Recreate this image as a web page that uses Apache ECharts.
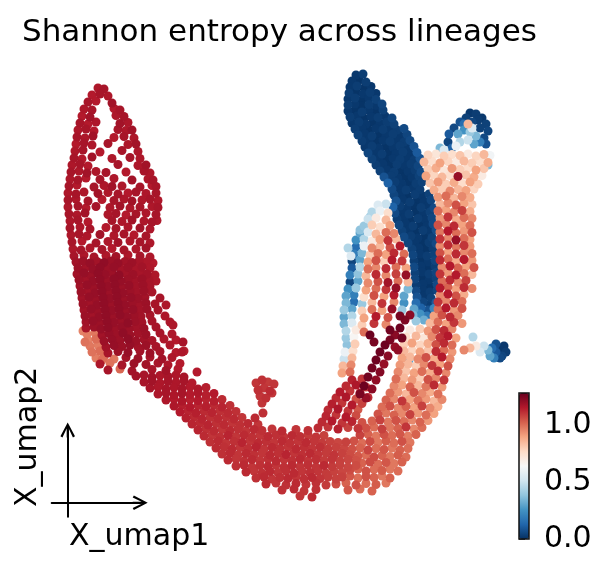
<!DOCTYPE html>
<html>
<head>
<meta charset="utf-8">
<script src="https://cdn.jsdelivr.net/npm/echarts@6/dist/echarts.min.js"></script>
<style>
  html, body { margin: 0; padding: 0; background: #fff; }
  #chart { width: 610px; height: 572px; }
</style>
</head>
<body>
<div id="chart"></div>
<script>
// every point is [umap1, umap2, entropy]
var leftArm = [
  [7.6,82.4,1.16],[8.8,82.2,1.17],
  [6.4,81,1.15],[8,81.2,1.17],[9.6,80.8,1.16],
  [5.6,79.6,1.17],[7.2,79.8,1.15],[10.4,79.4,1.18],
  [4.8,78.2,1.16],[6.4,78,1.17],[10.8,78.3,1.15],[12,78,1.17],
  [4.4,76.8,1.15],[6,76.6,1.18],[11.2,76.9,1.16],[12.8,76.7,1.17],
  [4,75.4,1.17],[5.6,75.2,1.15],[7.2,75.6,1.16],[12,75.3,1.18],[13.6,75.5,1.16],
  [3.6,74,1.16],[5.2,74.2,1.17],[6.8,73.8,1.15],[11.6,74.1,1.17],[13.2,73.9,1.16],[14.4,74,1.18],
  [3.4,72.6,1.17],[5,72.4,1.16],[6.6,72.8,1.18],[10.8,72.5,1.15],[12.8,72.7,1.17],[14.8,72.4,1.16],
  [3.2,71.2,1.15],[4.8,71.4,1.17],[6.4,71,1.16],[9.6,71.3,1.17],[13.6,71.1,1.16],[15.2,71.2,1.18],
  [3,69.8,1.16],[4.6,70,1.17],[8,69.6,1.15],[12.4,69.9,1.17],[15.6,69.7,1.16],
  [2.8,68.4,1.17],[4.4,68.2,1.15],[6.4,68.6,1.18],[10.4,68.3,1.16],[14,68.5,1.17],[16,68.3,1.16],
  [2.4,67,1.16],[4,67.2,1.17],[5.6,66.8,1.15],[11.6,67.1,1.17],[15.6,66.9,1.16],[17.2,67,1.18],
  [2.2,65.6,1.17],[3.8,65.8,1.16],[5.4,65.4,1.18],[7.2,65.7,1.16],[9.2,65.5,1.17],[13.2,65.6,1.15],[16.8,65.8,1.17],[18,65.4,1.16],
  [2,64.2,1.16],[3.6,64,1.17],[5.2,64.4,1.15],[8,64.1,1.17],[10.8,64.3,1.16],[14.4,64,1.18],[17.6,64.2,1.16],[18.6,64,1.17],
  [1.8,62.8,1.17],[3.4,63,1.15],[6.8,62.6,1.17],[8.8,62.9,1.16],[10.4,62.7,1.18],[12.4,62.8,1.16],[16,62.6,1.17],[18.4,62.9,1.15],[19.2,62.7,1.17],
  [1.6,61.4,1.16],[3.2,61.2,1.17],[4.8,61.6,1.16],[7.6,61.3,1.18],[9.6,61.5,1.16],[11.6,61.2,1.17],[13.6,61.4,1.15],[15.2,61.6,1.17],[17.2,61.3,1.16],[19.2,61.4,1.17],
  [1.6,60,1.17],[3.2,60.2,1.16],[5.6,59.8,1.17],[8.4,60.1,1.15],[10.8,59.9,1.17],[12.8,60.2,1.16],[14.4,59.8,1.18],[16.4,60,1.16],[18,60.2,1.17],[19.6,59.9,1.16],
  [1.6,58.6,1.16],[3.6,58.8,1.17],[5.2,58.4,1.15],[7.2,58.7,1.17],[10,58.5,1.16],[12,58.8,1.18],[14,58.4,1.16],[16,58.6,1.17],[18.4,58.7,1.16],[19.6,58.5,1.17],
  [1.8,57.2,1.17],[3.4,57,1.16],[5,57.4,1.18],[9.6,57.1,1.16],[11.2,57.3,1.17],[13.2,57,1.15],[15.2,57.2,1.17],[17.2,57.4,1.16],[19.2,57.1,1.17],
  [2,55.8,1.16],[3.6,56,1.17],[5.6,55.6,1.15],[10.4,55.9,1.17],[12.4,55.7,1.16],[14.4,56,1.18],[16.8,55.8,1.16],[18.4,55.6,1.17],[19.4,55.9,1.16],
  [2,54.4,1.17],[4,54.6,1.16],[6,54.2,1.17],[9.2,54.5,1.15],[11.2,54.3,1.17],[13.6,54.6,1.16],[16,54.4,1.18],[18,54.2,1.16],
  [2.2,53,1.16],[3.8,53.2,1.17],[5.4,52.8,1.16],[8,53.1,1.18],[10.8,52.9,1.16],[12.8,53.2,1.17],[14.8,53,1.15],[17.2,52.8,1.17],
  [2.4,51.6,1.17],[4.4,51.8,1.15],[7.2,51.4,1.17],[9.6,51.7,1.16],[11.6,51.5,1.18],[14,51.8,1.16],[16,51.6,1.17],[18,51.4,1.16],
  [2.6,50.2,1.16],[4.2,50,1.17],[6,50.4,1.16],[8.4,50.1,1.17],[10.4,50.3,1.15],[12.8,50,1.17],[15.2,50.2,1.16],[17.2,50.4,1.18],
  [2.8,48.8,1.17],[4.8,49,1.16],[6.8,48.6,1.17],[9.2,48.9,1.16],[11.2,48.7,1.18],[13.6,49,1.16],[16,48.8,1.17],[18,48.6,1.16]
];

var leftClump = [
  [3.2,47.6,1.18],[4.6,47.8,1.19],[6,47.4,1.2],[7.4,47.7,1.18],[8.8,47.5,1.21],[10.2,47.8,1.19],[11.6,47.4,1.2],[13,47.7,1.18],[14.4,47.5,1.19],[15.8,47.8,1.17],[17.2,47.6,1.16],[18.6,47.4,1.15],
  [3.6,46.4,1.19],[5.2,46.6,1.18],[6.6,46.2,1.2],[8,46.5,1.21],[9.4,46.3,1.19],[10.8,46.6,1.2],[12.2,46.2,1.18],[13.6,46.5,1.19],[15,46.3,1.17],[16.4,46.6,1.18],[18,46.4,1.16],
  [3.4,45.2,1.18],[4.8,45.4,1.2],[6.2,45,1.19],[7.6,45.3,1.21],[9,45.1,1.2],[10.4,45.4,1.19],[11.8,45,1.21],[13.2,45.3,1.18],[14.6,45.1,1.19],[16,45.4,1.17],[17.4,45.2,1.18],[19,45,1.16],
  [3.8,44,1.19],[5.2,44.2,1.18],[6.6,43.8,1.2],[8,44.1,1.21],[9.4,43.9,1.19],[10.8,44.2,1.21],[12.2,43.8,1.2],[13.6,44.1,1.19],[15,43.9,1.18],[16.4,44.2,1.19],[17.8,44,1.17],[19.2,43.8,1.16],
  [4,42.8,1.18],[5.4,43,1.2],[6.8,42.6,1.19],[8.2,42.9,1.21],[9.6,42.7,1.2],[11,43,1.21],[12.4,42.6,1.19],[13.8,42.9,1.2],[15.2,42.7,1.18],[16.6,43,1.19],[18,42.8,1.17],
  [4.2,41.6,1.19],[5.6,41.8,1.18],[7,41.4,1.2],[8.4,41.7,1.21],[9.8,41.5,1.19],[11.2,41.8,1.21],[12.6,41.4,1.2],[14,41.7,1.19],[15.4,41.5,1.18],[16.8,41.8,1.19],[18.4,41.6,1.17],
  [4.4,40.4,1.18],[5.8,40.6,1.2],[7.2,40.2,1.19],[8.6,40.5,1.21],[10,40.3,1.2],[11.4,40.6,1.21],[12.8,40.2,1.19],[14.2,40.5,1.2],[15.6,40.3,1.19],[17,40.6,1.18],[20,40.4,1.17],
  [4.6,39.2,1.19],[6,39.4,1.18],[7.4,39,1.2],[8.8,39.3,1.21],[10.2,39.1,1.19],[11.6,39.4,1.21],[13,39,1.2],[14.4,39.3,1.19],[15.8,39.1,1.18],[17.2,39.4,1.19],[19,39.2,1.17],[21.2,39,1.16],
  [4.8,38,1.18],[6.2,38.2,1.2],[7.6,37.8,1.19],[9,38.1,1.21],[10.4,37.9,1.2],[11.8,38.2,1.21],[13.2,37.8,1.19],[14.6,38.1,1.2],[16,37.9,1.18],[17.4,38.2,1.19],[19.6,38,1.17],
  [5,36.8,1.19],[6.4,37,1.18],[7.8,36.6,1.2],[9.2,36.9,1.21],[10.6,36.7,1.19],[12,37,1.21],[13.4,36.6,1.2],[14.8,36.9,1.19],[16.2,36.7,1.18],[18,37,1.17],[21,36.8,1.16],
  [5.2,35.6,1.18],[6.6,35.8,1.2],[8,35.4,1.19],[9.4,35.7,1.21],[10.8,35.5,1.2],[12.2,35.8,1.19],[13.6,35.4,1.21],[15,35.7,1.19],[16.4,35.5,1.18],[18.4,35.8,1.17],[22,35.6,1.16],
  [5.2,34.4,1.17],[6.8,34.6,1.19],[8.2,34.2,1.2],[9.6,34.5,1.21],[11,34.3,1.19],[12.4,34.6,1.2],[13.8,34.2,1.19],[15.2,34.5,1.18],[16.8,34.3,1.19],[19.2,34.6,1.17],
  [5.4,33.2,0.97],[7,33.4,0.98],[8.4,33,1.18],[9.8,33.3,1.2],[11.2,33.1,1.19],[12.6,33.4,1.21],[14,33,1.19],[15.6,33.3,1.18],[17.2,33.1,1.19],[20,33.4,1.17],[22.4,33.2,1.16],
  [5.6,32,0.96],[7.2,32.2,1.0],[8.8,31.8,1.19],[10.4,32.1,1.2],[12,31.9,1.19],[13.6,32.2,1.21],[15.2,31.8,1.19],[16.8,32.1,1.18],[18.4,31.9,1.17],[20.8,32.2,1.16],[23.2,32,1.15],
  [6,30.8,0.98],[7.6,31,0.97],[9.2,30.6,1.18],[10.8,30.9,1.2],[12.4,30.7,1.19],[14,31,1.2],[15.6,30.6,1.18],[17.2,30.9,1.19],[19.2,30.7,1.17],[22,31,1.16],
  [6.4,29.6,0.99],[8,29.8,1.0],[9.6,29.4,1.17],[11.6,29.7,1.19],[13.6,29.5,1.2],[16,29.8,1.18],[18,29.4,1.19],[20,29.7,1.17],[23.2,29.5,1.15],[24.8,29.8,1.14],
  [7.2,28.4,0.97],[8.8,28.6,1.0],[10.8,28.2,0.98],[13.2,28.5,1.18],[15.6,28.3,1.19],[18,28.6,1.17],[20.4,28.2,1.18],[22.4,28.5,1.16],
  [8,27.2,1.16],[10,27.4,0.99],[12.4,27,1.17],[14.8,27.3,1.19],[17.2,27.1,1.18],[19.6,27.4,1.17],[21.6,27,1.16],[24,27.3,1.15],
  [9.6,26,1.17],[12,26.2,1.01],[14.4,25.8,1.18],[18.4,26.1,1.17],[21.2,25.9,1.18],[23.6,26.2,1.15],
  [4.6,33.8,0.96],[5,31.6,0.99],[8.4,28,1.0]
];

var tailBand = [
  [15.2,24.8,1.18],[16.8,25,1.17],[18.4,24.6,1.18],[20,24.9,1.16],[21.6,24.7,1.17],[23.2,25,1.16],[24.8,24.6,1.17],
  [16.8,23.6,1.17],[18.4,23.8,1.18],[20,23.4,1.16],[21.6,23.7,1.17],[23.2,23.5,1.16],[24.8,23.8,1.17],[26.4,23.4,1.15],
  [18,22.4,1.17],[19.6,22.6,1.16],[21.2,22.2,1.17],[22.8,22.5,1.16],[24.4,22.3,1.17],[26,22.6,1.15],[27.6,22.2,1.16],[29.2,22.5,1.14],
  [19.6,21.2,1.16],[21.2,21.4,1.17],[22.8,21,1.16],[24.4,21.3,1.17],[26,21.1,1.15],[27.6,21.4,1.16],[29.2,21,1.14],[30.8,21.3,1.15],
  [21.2,20,1.16],[22.8,20.2,1.15],[24.4,19.8,1.16],[26,20.1,1.14],[27.6,19.9,1.15],[29.2,20.2,1.13],[30.8,19.8,1.14],[32.4,20.1,1.12],
  [22.8,18.8,1.16],[24.4,19,1.14],[26,18.6,1.15],[27.6,18.9,1.13],[29.2,18.7,1.14],[30.8,19,1.12],[32.4,18.6,1.13],[34,18.9,1.11],
  [24,17.6,1.15],[25.6,17.8,1.13],[27.2,17.4,1.14],[28.8,17.7,1.12],[30.4,17.5,1.13],[32,17.8,1.11],[33.6,17.4,1.12],[35.2,17.7,1.11],
  [25.2,16.4,1.14],[26.8,16.6,1.12],[28.4,16.2,1.13],[30,16.5,1.11],[31.6,16.3,1.12],[33.2,16.6,1.11],[34.8,16.2,1.12],[36.4,16.5,1.1],
  [26.4,15.2,1.13],[28,15.4,1.12],[29.6,15,1.13],[31.2,15.3,1.11],[32.8,15.1,1.12],[34.4,15.4,1.1],[36,15,1.11],[37.6,15.3,1.12],[39.6,15.1,1.1],
  [27.6,14,1.13],[29.2,14.2,1.11],[30.8,13.8,1.12],[32.4,14.1,1.1],[34,13.9,1.12],[35.6,14.2,1.11],[37.2,13.8,1.1],[38.8,14.1,1.12],[40.4,13.9,1.11],[42.4,14.2,1.1],[44.4,13.8,1.12],[47.2,14.1,1.1],[49.6,13.9,1.11]
];

var uBand = [
  [28.8,12.8,1.12],[30.4,13,1.1],[32,12.6,1.11],[33.6,12.9,1.13],[35.2,12.7,1.1],[36.8,13,1.12],[38.4,12.6,1.11],[40,12.9,1.1],[41.6,12.7,1.12],[43.2,13,1.11],[44.8,12.6,1.1],[46.4,12.9,1.12],[48,12.7,1.11],[49.6,13,1.09],[51.2,12.6,1.1],[52.8,12.9,1.08],
  [30,11.6,1.11],[31.6,11.8,1.12],[33.2,11.4,1.1],[34.8,11.7,1.11],[36.4,11.5,1.13],[38,11.8,1.1],[39.6,11.4,1.12],[41.2,11.7,1.11],[42.8,11.5,1.1],[44.4,11.8,1.12],[46,11.4,1.11],[47.6,11.7,1.1],[49.2,11.5,1.12],[50.8,11.8,1.1],[52.4,11.4,1.09],[54,11.7,1.08],[55.6,11.5,1.07],
  [31.2,10.4,1.12],[32.8,10.6,1.11],[34.4,10.2,1.12],[36,10.5,1.1],[37.6,10.3,1.11],[39.2,10.6,1.13],[40.8,10.2,1.1],[42.4,10.5,1.12],[44,10.3,1.11],[45.6,10.6,1.1],[47.2,10.2,1.12],[48.8,10.5,1.11],[50.4,10.3,1.1],[52,10.6,1.11],[53.6,10.2,1.09],[55.2,10.5,1.08],[56.8,10.3,1.07],
  [32.4,9.2,1.11],[34,9.4,1.12],[35.6,9,1.1],[37.2,9.3,1.12],[38.8,9.1,1.11],[40.4,9.4,1.1],[42,9,1.12],[43.6,9.3,1.11],[45.2,9.1,1.13],[46.8,9.4,1.1],[48.4,9,1.11],[50,9.3,1.12],[51.6,9.1,1.1],[53.2,9.4,1.09],[54.8,9,1.1],[56.4,9.3,1.08],[58,9.1,1.06],
  [33.6,8,1.12],[35.2,8.2,1.1],[36.8,7.8,1.11],[38.4,8.1,1.12],[40,7.9,1.1],[41.6,8.2,1.11],[43.2,7.8,1.12],[44.8,8.1,1.1],[46.4,7.9,1.11],[48,8.2,1.12],[49.6,7.8,1.1],[51.2,8.1,1.11],[52.8,7.9,1.09],[54.4,8.2,1.1],[56,7.8,1.08],[57.6,8.1,1.07],[59.2,7.9,1.05],
  [35.2,6.8,1.11],[36.8,7,1.12],[38.4,6.6,1.1],[40,6.9,1.11],[41.6,6.7,1.12],[43.2,7,1.1],[44.8,6.6,1.11],[46.4,6.9,1.12],[48,6.7,1.1],[49.6,7,1.11],[51.2,6.6,1.1],[52.8,6.9,1.12],[54.4,6.7,1.09],[56,7,1.08],[57.6,6.6,1.07],[59.2,6.9,1.06],
  [37.2,5.6,1.12],[38.8,5.8,1.1],[40.4,5.4,1.11],[42,5.7,1.12],[43.6,5.5,1.1],[45.2,5.8,1.11],[46.8,5.4,1.12],[48.4,5.7,1.1],[50,5.5,1.11],[51.6,5.8,1.1],[53.2,5.4,1.09],[54.8,5.7,1.08],[56.4,5.5,1.07],
  [39.2,4.4,1.11],[40.8,4.6,1.12],[42.4,4.2,1.1],[44,4.5,1.11],[45.6,4.3,1.12],[47.2,4.6,1.1],[48.8,4.2,1.11],[50.4,4.5,1.12],[52,4.3,1.1],[53.6,4.6,1.09],[55.2,4.2,1.08],
  [41.2,3.2,1.12],[43.2,3.4,1.1],[45.2,3,1.11],[47.2,3.3,1.12],[49.2,3.1,1.1],[51.2,3.4,1.11],[53.2,3,1.09],
  [44.4,2,1.11],[46.8,2.2,1.12],[48.8,1.8,1.1],[51.2,2.1,1.11],
  [48,0.8,1.1],[50.4,0.6,1.12]
];

var islandPts = [
  [39.2,23.4,1.1],[40.4,24,1.11],[41.6,23.6,1.09],[42.8,23.2,1.1],[39.6,22,1.11],[40.8,22.4,1.1],
  [42,21.8,1.12],[40,20.8,1.1],[41.2,20.4,1.11],[40.4,19.4,1.1],[39,16.4,1.12],[40.6,17.4,1.11],[42.4,21.4,1.1]
];

var redStrand = [
  [58.4,24,1.14],[60.4,24.2,1.1],
  [57.2,22.8,1.12],[59.2,23,1.16],[61.2,22.6,1.08],
  [56,21.6,1.15],[58,21.8,1.1],[60,21.4,1.13],
  [55.2,20.4,1.12],[57.2,20.6,1.16],[59.2,20.2,1.05],[61.6,20.5,1.12],
  [54.4,19.2,1.14],[56.4,19.4,1.1],[58.4,19,1.15],[60.4,19.3,1.08],
  [53.6,18,1.12],[55.6,18.2,1.16],[57.6,17.8,1.1],[59.6,18.1,1.04],
  [53.2,16.8,1.13],[55.2,17,1.1],[57.2,16.6,1.15],[59.2,16.9,1.06],
  [52.4,15.6,1.12],[54.4,15.8,1.15],[56.4,15.4,1.1],[58.4,15.7,1.13],[60.4,15.5,1.05],
  [51.6,14.4,1.12],[53.6,14.6,1.1],[55.6,14.2,1.14],[57.6,14.5,1.08],[59.6,14.3,1.1]
];

var darkRedStrand = [
  [69,36,1.24],[68,34.4,1.27],[67,33,1.22],[68.4,32.4,1.26],[66,32,1.25],[65,31,1.27],[67,30.6,1.2],
  [64,29.6,1.27],[65.6,28.8,1.22],[63.2,28,1.27],[64.8,27.2,1.2],[62.4,26.4,1.26],[64,25.6,1.23],
  [61.6,24.6,1.26],[63.2,24,1.21],[60.8,22.8,1.27],[62.4,22.2,1.22],[60,21.2,1.25],[61.2,20.4,1.2],
  [70,37,1.22],[66,34,1.26],[67.6,30,1.21],[62,33,1.27],[62.8,31.6,1.25]
];

var midMix = [
  [63.6,59,0.55],[65.2,59.2,0.5],
  [62.4,57.6,0.45],[64,57.8,0.6],[65.6,57.4,0.75],
  [61.6,56.2,0.5],[63.2,56.4,0.7],[65.2,56,0.85],
  [60.8,54.8,0.4],[62.4,55,0.8],[64,54.6,0.75],[66,54.9,0.9],
  [60,53.4,0.3],[61.6,53.6,0.55],[63.2,53.2,0.85],[65.2,53.5,1.0],[66.8,53.3,0.95],
  [59.2,52,0.25],[60.8,52.2,0.45],[62.4,51.8,0.7],[64,52.1,0.9],[65.6,51.9,1.1],[67.2,52.2,0.85],
  [59.2,50.6,0.15],[60.8,50.8,0.6],[62.4,50.4,0.95],[64,50.7,0.85],[66,50.5,1.05],[68,50.8,1.15],
  [58.8,49.2,0.2],[60.4,49.4,0.35],[62,49,0.8],[63.6,49.3,1.0],[65.2,49.1,0.9],[66.8,49.4,1.12],[68.8,49.2,1.0],
  [58.4,47.8,0.05],[60,48,0.3],[61.6,47.6,0.9],[63.2,47.9,1.05],[64.8,47.7,0.8],[66.4,48,1.15],[68.4,47.8,1.1],
  [58.4,46.4,0.1],[60,46.6,0.45],[61.6,46.2,1.0],[63.2,46.5,0.95],[65.2,46.3,1.12],[67.2,46.6,1.0],[69.2,46.4,0.9],
  [58,45,0.2],[59.6,45.2,0.38],[61.2,44.8,0.85],[63.2,45.1,1.12],[65.2,44.9,0.95],[67.2,45.2,1.08],[69.2,45,1.2],
  [58,43.6,0.05],[59.6,43.8,0.3],[61.6,43.4,0.95],[63.6,43.7,1.05],[65.6,43.5,1.18],[67.6,43.8,1.0],[69.6,43.6,0.85],
  [57.6,42.2,0.25],[59.2,42.4,0.4],[61.2,42,0.9],[63.2,42.3,1.0],[65.2,42.1,1.1],[67.2,42.4,1.2],[69.6,42.2,0.35],
  [57.2,40.8,0.3],[58.8,41,0.2],[60.8,40.6,0.75],[62.8,40.9,1.05],[64.8,40.7,0.9],[66.8,41,1.15],[68.8,40.8,0.3],
  [57.2,39.4,0.35],[58.8,39.6,0.15],[60.4,39.2,0.4],[62.4,39.5,0.85],[64.4,39.3,1.1],[66.8,39.6,0.95],[68.8,39.4,0.25],
  [56.8,38,0.4],[58.4,38.2,0.3],[60.4,37.8,0.8],[62.4,38.1,1.0],[64.4,37.9,0.9],[66.4,38.2,1.2],[68.4,38,0.4],
  [56.8,36.6,0.3],[58.4,36.8,0.45],[60.8,36.4,0.9],[63.2,36.7,1.15],[65.6,36.5,1.05],[68,36.8,1.25],
  [56.8,35.2,0.35],[58.4,35.4,0.55],[60.4,35,0.8],[62.8,35.3,1.1],[65.2,35.1,0.95],
  [57.2,33.8,0.45],[59.2,34,0.7],[60.8,33.6,1.0],
  [57.2,32.4,0.4],[58.8,32.6,0.65],
  [57.4,31,0.38],[59,31.2,0.8],
  [57,29.6,0.6],[58.6,29.8,0.75],
  [56.8,28.2,0.5],[58.4,28.4,0.85],
  [56.6,26.8,0.85],[58.2,27,0.95],
  [56.4,25.4,0.9],[58,25.6,1.0],
  [62,56.6,0.4],[60,54,0.38],[57.6,50.4,0.45],[58.2,48.8,0.55]
];

var salmonPatch = [
  [73.6,69,0.78],[75.2,69.2,0.72],[76.8,68.8,0.8],[78.4,69.1,0.75],[80,68.9,0.82],[81.6,69.2,0.7],[83.2,68.8,0.78],[84.8,69.1,0.85],[86,68.9,0.62],
  [72.8,67.6,0.85],[74.4,67.8,0.75],[76,67.4,0.9],[77.6,67.7,0.78],[79.2,67.5,0.7],[80.8,67.8,0.85],[82.4,67.4,0.8],[84,67.7,0.75],[85.6,67.5,0.88],
  [73.6,66.2,0.8],[75.2,66.4,0.88],[76.8,66,0.72],[78.4,66.3,0.92],[80,66.1,0.8],[81.6,66.4,0.76],[83.2,66,0.9],[84.8,66.3,0.82],
  [73.2,64.8,0.9],[74.8,65,0.78],[76.4,64.6,0.85],[78,64.9,0.75],[79.6,64.7,1.2],[81.2,65,0.82],[82.8,64.6,0.88],[84.4,64.9,0.7],
  [74,63.4,0.82],[75.6,63.6,0.92],[77.2,63.2,0.8],[78.8,63.5,0.88],[80.4,63.3,0.76],[82,63.6,0.9],[83.6,63.2,0.8],
  [74.8,62,0.88],[76.4,62.2,0.8],[78,61.8,0.95],[79.6,62.1,0.85],[81.2,61.9,0.9],[82.8,62.2,0.78],
  [75.6,60.6,0.92],[77.2,60.8,1.0],[78.8,60.4,0.85],[80.4,60.7,0.95],[82,60.5,0.88],
  [76,59.2,0.85],[77.6,59.4,0.95],[79.2,59,1.05],[80.8,59.3,0.9],[82.4,59.1,0.82],
  [75.6,57.8,1.0],[77.2,58,0.9],[78.8,57.6,0.95],[80.4,57.9,1.08],[82,57.7,0.88],
  [76,56.4,0.92],[77.6,56.6,1.1],[79.2,56.2,0.88],[80.8,56.5,1.0],[82.4,56.3,0.95],
  [75.6,55,1.05],[77.2,55.2,0.95],[78.8,54.8,1.12],[80.4,55.1,0.9],[82,54.9,1.0],
  [76,53.6,0.98],[77.6,53.8,1.15],[79.2,53.4,1.0],[80.8,53.7,0.92],[82.4,53.5,1.05],
  [76,52.2,1.1],[77.6,52.4,0.95],[79.2,52,1.2],[80.8,52.3,1.0],[82,52.1,0.9],
  [76,50.8,0.95],[77.6,51,1.12],[79.2,50.6,0.98],[80.8,50.9,1.1],[82,50.7,0.92]
];

var rightBand = [
  [76,49.4,1.05],[77.6,49.6,0.9],[79.2,49.2,1.12],[80.8,49.5,0.95],[82.4,49.3,1.0],
  [76,48,1.12],[77.6,48.2,1.0],[79.2,47.8,0.88],[80.8,48.1,1.15],[82.4,47.9,0.92],
  [76.4,46.6,0.95],[78,46.8,1.15],[79.6,46.4,1.02],[81.2,46.7,0.9],[82.8,46.5,1.05],
  [76,45.2,1.1],[77.6,45.4,0.92],[79.2,45,1.15],[80.8,45.3,1.0],[82.4,45.1,0.85],
  [76.4,43.8,1.0],[78,44,1.12],[79.6,43.6,0.95],[81.2,43.9,1.08],
  [76,42.4,1.15],[77.6,42.6,1.02],[79.2,42.2,0.9],[80.8,42.5,1.12],[82.4,42.3,0.95],
  [76,41,0.95],[77.6,41.2,1.15],[79.2,40.8,1.05],[80.8,41.1,0.88],
  [75.6,39.6,1.1],[77.2,39.8,0.95],[78.8,39.4,1.12],[80.4,39.7,1.0],
  [75.6,38.2,1.0],[77.2,38.4,1.15],[78.8,38,0.92],[80.4,38.3,1.05],
  [74.8,36.8,0.9],[76.4,37,1.05],[78,36.6,1.12],[79.6,36.9,0.95],
  [74,35.4,0.85],[75.6,35.6,1.0],[77.2,35.2,0.9],[78.8,35.5,1.1],[80.4,35.3,0.92],
  [70,34,0.7],[72,34.2,0.8],[73.6,33.8,0.92],[75.2,34.1,1.05],[76.8,33.9,1.12],[78.4,34.2,0.95],
  [69.2,32.6,0.75],[71.2,32.8,0.85],[72.8,32.4,0.72],[74.4,32.7,0.95],[76,32.5,1.1],[77.6,32.8,1.15],[79.2,32.4,0.9],
  [68.8,31.2,0.8],[70.4,31.4,0.9],[72,31,0.78],[73.6,31.3,0.88],[75.2,31.1,1.05],[76.8,31.4,1.12],[78.4,31,1.0],
  [68.8,29.8,0.85],[70.4,30,0.78],[72,29.6,0.9],[73.6,29.9,0.82],[75.2,29.7,1.12],[76.8,30,1.0],[78.4,29.6,0.92],
  [68.4,28.4,0.9],[70,28.6,0.85],[71.6,28.2,0.95],[73.2,28.5,1.05],[74.8,28.3,0.88],[76.4,28.6,1.15],[78,28.2,0.95],
  [68,27,0.92],[69.6,27.2,0.85],[71.2,26.8,0.8],[72.8,27.1,0.95],[74.4,26.9,1.1],[76,27.2,0.9],[77.6,26.8,1.05],
  [67.6,25.6,0.95],[69.2,25.8,0.82],[70.8,25.4,0.9],[72.4,25.7,1.0],[74,25.5,0.88],[75.6,25.8,1.12],[77.2,25.4,0.95],
  [67.2,24.2,1.0],[68.8,24.4,0.85],[70.4,24,0.92],[72,24.3,0.8],[73.6,24.1,1.05],[75.2,24.4,0.95],[76.8,24,1.1],
  [66.8,22.8,0.95],[68.4,23,0.9],[70,22.6,1.02],[71.6,22.9,0.85],[73.2,22.7,0.98],[74.8,23,1.12],[76.4,22.6,0.92],
  [66,21.4,1.0],[67.6,21.6,0.92],[69.2,21.2,0.85],[70.8,21.5,1.05],[72.4,21.3,0.95],[74,21.6,0.88],[75.6,21.2,1.0],
  [65.2,20,1.02],[66.8,20.2,0.95],[68.4,19.8,1.1],[70,20.1,0.9],[71.6,19.9,1.0],[73.2,20.2,0.92],[74.8,19.8,0.85],[76.4,20.1,0.95],
  [64.4,18.6,1.0],[66,18.8,1.05],[67.6,18.4,0.95],[69.2,18.7,1.02],[70.8,18.5,0.9],[72.4,18.8,1.08],[74,18.4,0.95],[75.6,18.7,0.88],
  [63.6,17.2,1.05],[65.2,17.4,0.98],[66.8,17,1.02],[68.4,17.3,0.95],[70,17.1,1.08],[71.6,17.4,0.92],[73.2,17,1.0],[74.8,17.3,0.9],
  [62.4,15.8,1.02],[64,16,1.08],[65.6,15.6,0.98],[67.2,15.9,1.05],[68.8,15.7,1.0],[70.4,16,0.95],[72,15.6,1.02],[73.6,15.9,0.92],
  [61.2,14.4,1.05],[62.8,14.6,1.0],[64.4,14.2,1.08],[66,14.5,0.98],[67.6,14.3,1.02],[69.2,14.6,1.1],[70.8,14.2,0.95],[72.4,14.5,1.0],
  [60,13,1.08],[61.6,13.2,1.02],[63.2,12.8,0.98],[64.8,13.1,1.05],[66.4,12.9,1.0],[68,13.2,1.04],[69.6,12.8,0.97],[71.2,13.1,1.02],
  [57.2,11.6,1.08],[58.8,11.8,1.05],[60.4,11.4,1.0],[62,11.7,1.06],[63.6,11.5,0.98],[65.2,11.8,1.03],[66.8,11.4,1.0],[68.4,11.7,1.05],[70,11.5,0.98],
  [58.4,10.2,1.05],[60,10.4,1.02],[61.6,10,1.07],[63.2,10.3,1.0],[64.8,10.1,1.04],[66.4,10.4,0.98],[68,10,1.02],[69.6,10.3,1.0],
  [59.6,8.8,1.04],[61.2,9,1.0],[62.8,8.6,1.06],[64.4,8.9,1.02],[66,8.7,0.98],[67.6,9,1.03],[69.2,8.6,1.0],
  [60.4,7.4,1.02],[62,7.6,1.06],[63.6,7.2,1.0],[65.2,7.5,1.04],[66.8,7.3,0.98],[68.4,7.6,1.02],
  [58,6,1.06],[59.6,6.2,1.02],[61.2,5.8,1.05],[62.8,6.1,1.0],[64.4,5.9,1.03],[66,6.2,0.98],[67.6,5.8,1.0],
  [56.4,4.6,1.08],[58,4.8,1.04],[59.6,4.4,1.0],[61.2,4.7,1.05],[62.8,4.5,1.02],[64.4,4.8,0.98],[66,4.4,1.02],
  [55.2,3.2,1.06],[57.2,3.4,1.02],[59.2,3,1.05],[61.2,3.3,1.0],[63.2,3.1,1.03],[65.2,3.4,0.98],
  [57.6,2,1.04],[60,2.2,1.0],[62.4,1.8,1.02]
];

var blueArm = [
  [59.2,85,0.02],[60.6,85.2,0.03],
  [58.4,83.8,0.02],[59.8,84,0.01],[61.2,83.6,0.03],
  [58,82.6,0.02],[59.4,82.8,0.03],[60.8,82.4,0.01],[62.2,82.7,0.02],
  [57.8,81.4,0.03],[59.2,81.6,0.01],[60.6,81.2,0.02],[62,81.5,0.03],[63.2,81.3,0.02],
  [57.6,80.2,0.02],[59,80.4,0.03],[60.4,80,0.01],[61.8,80.3,0.02],[63.2,80.1,0.04],
  [57.6,79,0.03],[59,79.2,0.02],[60.4,78.8,0.01],[61.8,79.1,0.03],[63.2,78.9,0.02],[64.4,79.2,0.05],
  [57.6,77.8,0.02],[59,78,0.01],[60.4,77.6,0.03],[61.8,77.9,0.02],[63.2,77.7,0.01],[64.6,78,0.04],
  [58,76.6,0.03],[59.4,76.8,0.02],[60.8,76.4,0.01],[62.2,76.7,0.02],[63.6,76.5,0.03],[65,76.8,0.02],[66.4,76.4,0.05],
  [58.4,75.4,0.02],[59.8,75.6,0.03],[61.2,75.2,0.02],[62.6,75.5,0.01],[64,75.3,0.02],[65.4,75.6,0.03],[66.8,75.2,0.04],
  [59,74.2,0.03],[60.4,74.4,0.02],[61.8,74,0.01],[63.2,74.3,0.02],[64.6,74.1,0.03],[66,74.4,0.02],[67.4,74,0.03],[68.8,74.3,0.06],
  [59.6,73,0.04],[61,73.2,0.02],[62.4,72.8,0.03],[63.8,73.1,0.01],[65.2,72.9,0.02],[66.6,73.2,0.03],[68,72.8,0.02],[69.4,73.1,0.05],
  [60.4,71.8,0.03],[61.8,72,0.02],[63.2,71.6,0.01],[64.6,71.9,0.02],[66,71.7,0.03],[67.4,72,0.02],[68.8,71.6,0.03],[70,71.9,0.06],
  [61,70.6,0.02],[62.4,70.8,0.03],[63.8,70.4,0.02],[65.2,70.7,0.01],[66.6,70.5,0.02],[68,70.8,0.03],[69.4,70.4,0.02],[70.8,70.7,0.08],
  [61.6,69.4,0.05],[63,69.6,0.02],[64.4,69.2,0.03],[65.8,69.5,0.01],[67.2,69.3,0.02],[68.6,69.6,0.03],[70,69.2,0.02],[71.4,69.5,0.1],
  [62.4,68.2,0.04],[63.8,68.4,0.02],[65.2,68,0.01],[66.6,68.3,0.02],[68,68.1,0.03],[69.4,68.4,0.02],[70.8,68,0.03],[72,68.3,0.08],
  [63.2,67,0.03],[64.6,67.2,0.02],[66,66.8,0.01],[67.4,67.1,0.03],[68.8,66.9,0.02],[70.2,67.2,0.03],[71.6,66.8,0.05],
  [64,65.8,0.04],[65.4,66,0.02],[66.8,65.6,0.03],[68.2,65.9,0.01],[69.6,65.7,0.02],[71,66,0.03],[72.2,65.6,0.06],
  [64.8,64.6,0.08],[66.2,64.8,0.03],[67.6,64.4,0.02],[69,64.7,0.01],[70.4,64.5,0.02],[71.8,64.8,0.04],
  [65.6,63.4,0.12],[67,63.6,0.03],[68.4,63.2,0.02],[69.8,63.5,0.01],[71.2,63.3,0.03],[72.4,63.6,0.04],
  [66.4,62.2,0.06],[67.8,62.4,0.02],[69.2,62,0.03],[70.6,62.3,0.02],[72,62.1,0.03]
];

var blueStem = [
  [66.8,61,0.05],[68.2,61.2,0.02],[69.6,60.8,0.01],[71,61.1,0.03],[72.4,60.9,0.02],[73.8,61.2,0.04],
  [67.2,59.8,0.08],[68.6,60,0.02],[70,59.6,0.03],[71.4,59.9,0.01],[72.8,59.7,0.02],[74.2,60,0.05],
  [66.6,58.6,0.12],[68,58.8,0.03],[69.4,58.4,0.02],[70.8,58.7,0.01],[72.2,58.5,0.03],[73.6,58.8,0.02],[74.8,58.4,0.06],
  [67,57.4,0.06],[68.4,57.6,0.02],[69.8,57.2,0.03],[71.2,57.5,0.01],[72.6,57.3,0.02],[74,57.6,0.04],
  [67.4,56.2,0.03],[68.8,56.4,0.02],[70.2,56,0.01],[71.6,56.3,0.03],[73,56.1,0.02],[74.4,56.4,0.05],
  [67.8,55,0.05],[69.2,55.2,0.02],[70.6,54.8,0.03],[72,55.1,0.01],[73.4,54.9,0.02],[74.6,55.2,0.06],
  [68.4,53.8,0.04],[69.8,54,0.02],[71.2,53.6,0.01],[72.6,53.9,0.03],[74,53.7,0.02],[75.2,54,0.07],
  [68.8,52.6,0.06],[70.2,52.8,0.03],[71.6,52.4,0.02],[73,52.7,0.01],[74.4,52.5,0.04],
  [69.6,51.4,0.05],[71,51.6,0.02],[72.4,51.2,0.01],[73.8,51.5,0.03],[75.2,51.3,0.06],
  [70.4,50.2,0.04],[71.8,50.4,0.02],[73.2,50,0.01],[74.6,50.3,0.03],
  [70.6,49,0.05],[72,49.2,0.02],[73.4,48.8,0.03],[74.8,49.1,0.04],
  [70.8,47.8,0.03],[72.2,48,0.01],[73.6,47.6,0.02],[75,47.9,0.05],
  [70.8,46.6,0.06],[72.2,46.8,0.02],[73.6,46.4,0.01],[75,46.7,0.03],
  [71,45.4,0.04],[72.4,45.6,0.02],[73.8,45.2,0.03],[75.2,45.5,0.05],
  [71,44.2,0.05],[72.4,44.4,0.01],[73.8,44,0.02],[75.2,44.3,0.04],
  [71.2,43,0.03],[72.6,43.2,0.02],[74,42.8,0.01],[75.4,43.1,0.06],
  [71.2,41.8,0.06],[72.6,42,0.02],[74,41.6,0.03],[75.4,41.9,0.05],
  [71.4,40.6,0.08],[72.8,40.8,0.02],[74.2,40.4,0.04],
  [71.2,39.4,0.15],[72.6,39.6,0.05],[74,39.2,0.03],[75.2,39.5,0.1],
  [70.8,38.2,0.3],[72.2,38.4,0.12],[73.6,38,0.08],[74.8,38.3,0.22],
  [70.6,37,0.35],[72,37.2,0.25],[73.4,36.8,0.18],
  [71.2,35.8,0.4],[72.8,36,0.32]
];

var topRightCluster = [
  [82,77.4,0.02],[83.2,77.2,0.03],[84.4,76.4,0.02],[85.2,75.2,0.04],[85.6,73.8,0.05],[84.8,72.4,0.06],
  [83.6,76,0.03],[82.4,75.6,0.05],[81.2,76.4,0.04],[80,75.6,0.08],[78.8,74.4,0.06],[77.8,73.2,0.1],
  [77.6,71.6,0.05],[78.4,70.4,0.12],[84,74.4,0.04],[85.2,71.2,0.08],
  [79.6,73.2,0.3],[80.8,74,0.25],[82,73.6,0.4],[83.2,72.8,0.35],[80,71.6,0.45],[81.6,72,0.5],
  [82.8,71.2,0.3],[84,71.6,0.2],[80.8,75.2,0.15],[82.4,74.4,0.55],[81.6,75.2,0.85],
  [79.2,70.8,0.6],[76.8,70,0.55],[76,70.4,0.35],[85.6,67,0.35]
];

var lowBlueCluster = [
  [88,30.4,0.02],[89.2,29.6,0.03],[88.4,28.8,0.05],[87.2,29.6,0.1],[86.8,28.4,0.2],[85.6,30,0.35],
  [84.8,30.8,0.5],[84,29.6,0.55],[86,28.8,0.3],[87.2,31.2,0.08],[83.2,30.8,0.7],[82,30.4,0.85],
  [80.8,30,0.95],[82.6,32.6,0.45],[88.8,30.8,0.02],[88,28.4,0.06],[86.4,30.4,0.15]
];

var strayPts = [
  [69.8,28,0.3],[72,28.6,0.62],[74,29.4,0.6],
  [22.6,35,1.16],[24.6,31.6,1.17],[24.4,29.6,1.16],[27.4,25.6,1.15]
];

var rdbuR = ['#053061','#2166ac','#4393c3','#92c5de','#d1e5f0','#f7f7f7','#fddbc7','#f4a582','#d6604d','#b2182b','#67001f'];
var cbarTicks = [0, 0.5, 1.0];
var cbarMax = 1.28;

var allPts = [].concat(leftArm, leftClump, tailBand, uBand, islandPts, redStrand, darkRedStrand,
  midMix, salmonPatch, rightBand, blueArm, blueStem, topRightCluster, lowBlueCluster, strayPts);
// higher entropy drawn on top
allPts.sort(function (a, b) { return a[2] - b[2]; });

var chevron = 'path://M5,0 L10,9.5 L8.6,10.3 L5.7,4.2 L5.7,10.3 L4.3,10.3 L4.3,4.2 L1.4,10.3 L0,9.5 Z';
var fontFam = 'DejaVu Sans';

var chart = echarts.init(document.getElementById('chart'));
var option = {
  animation: false,
  backgroundColor: '#fff',
  title: {
    text: 'Shannon entropy across lineages',
    left: 22,
    top: 17,
    padding: 0,
    textStyle: { fontFamily: fontFam, fontSize: 31, fontWeight: 'normal', color: '#000' }
  },
  grid: [
    { left: 60, top: 70, width: 450, height: 430 },
    { left: 519, top: 393, width: 10, height: 146, show: true, borderColor: '#111', borderWidth: 1.5, backgroundColor: 'transparent', z: 10 },
    { left: 51.7, top: 430, width: 88.5, height: 86.7 }
  ],
  xAxis: [
    { gridIndex: 0, type: 'value', min: 0, max: 90, show: false },
    { gridIndex: 1, type: 'value', min: 0, max: 1, show: false },
    {
      gridIndex: 2, type: 'value', min: -16, max: 72.5,
      axisLine: { show: true, onZero: true, symbol: ['none', chevron], symbolSize: [15, 15], lineStyle: { color: '#000', width: 2 } },
      axisTick: { show: false }, axisLabel: { show: false }, splitLine: { show: false }
    }
  ],
  yAxis: [
    { gridIndex: 0, type: 'value', min: 0, max: 86, show: false },
    {
      gridIndex: 1, type: 'value', min: 0, max: cbarMax, position: 'right',
      axisLine: { show: false },
      axisTick: { show: true, length: 6, customValues: cbarTicks, lineStyle: { color: '#111', width: 1.5 } },
      axisLabel: {
        show: true, margin: 15, customValues: cbarTicks, color: '#000',
        fontFamily: fontFam, fontSize: 30,
        formatter: function (v) { return v.toFixed(1); }
      },
      splitLine: { show: false }
    },
    {
      gridIndex: 2, type: 'value', min: -14, max: 72.7,
      axisLine: { show: true, onZero: true, symbol: ['none', chevron], symbolSize: [15, 15], lineStyle: { color: '#000', width: 2 } },
      axisTick: { show: false }, axisLabel: { show: false }, splitLine: { show: false }
    }
  ],
  visualMap: {
    type: 'continuous',
    min: 0,
    max: cbarMax,
    dimension: 2,
    seriesIndex: 0,
    calculable: false,
    left: 519,
    top: 393,
    padding: 0,
    itemWidth: 10,
    itemHeight: 146,
    inRange: { color: rdbuR }
  },
  graphic: [
    {
      type: 'text', x: 69, y: 537,
      style: { text: 'X_umap1', fill: '#000', font: '30px "DejaVu Sans"', textAlign: 'left', textVerticalAlign: 'middle' }
    },
    {
      type: 'text', x: 28, y: 507, rotation: Math.PI / 2,
      style: { text: 'X_umap2', fill: '#000', font: '30px "DejaVu Sans"', textAlign: 'left', textVerticalAlign: 'middle' }
    }
  ],
  series: [{
    type: 'scatter',
    xAxisIndex: 0,
    yAxisIndex: 0,
    symbolSize: 9,
    silent: true,
    itemStyle: { opacity: 1 },
    data: allPts
  }]
};
chart.setOption(option);
</script>
</body>
</html>
